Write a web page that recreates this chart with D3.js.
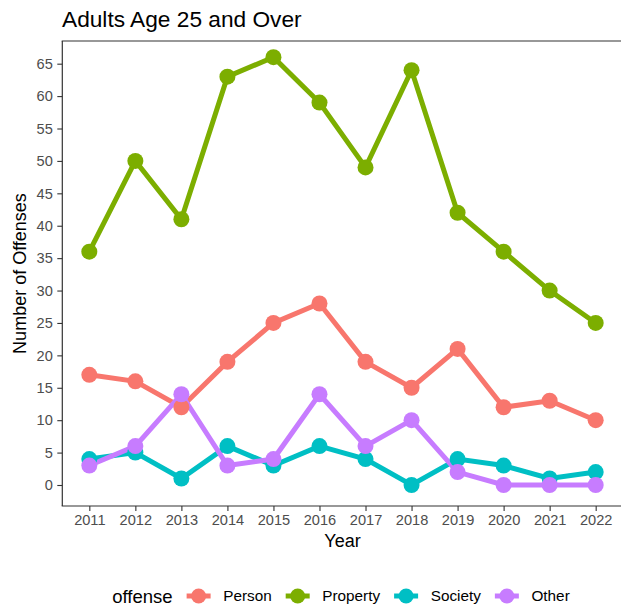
<!DOCTYPE html>
<meta charset="utf-8">
<head>
  <title>Adults Age 25 and Over</title>
  <style>
    body { margin: 0; background: #fff; font-family: "Liberation Sans", Arial, Helvetica, sans-serif; }
    svg text { font-family: "Liberation Sans", Arial, Helvetica, sans-serif; }
  </style>
  <script src="https://d3js.org/d3.v7.min.js"></script>
</head>
<body>
<svg id="chart" width="621" height="609"></svg>
<script>
// data
var years = [2011, 2012, 2013, 2014, 2015, 2016, 2017, 2018, 2019, 2020, 2021, 2022];
var offenses = ["Person", "Property", "Society", "Other"];
var person   = [17, 16, 12, 19, 25, 28, 19, 15, 21, 12, 13, 10];
var property = [36, 50, 41, 63, 66, 59, 49, 64, 42, 36, 30, 25];
var society  = [4, 5, 1, 6, 3, 6, 4, 0, 4, 3, 1, 2];
var other    = [3, 6, 14, 3, 4, 14, 6, 10, 2, 0, 0, 0];
var yTicks = [0, 5, 10, 15, 20, 25, 30, 35, 40, 45, 50, 55, 60, 65];
var colors = ["#F8766D", "#7CAE00", "#00BFC4", "#C77CFF"];

var seriesValues = [person, property, society, other];
var series = offenses.map(function(name, i) {
  return { name: name, color: colors[i],
    values: years.map(function(y, j) { return { year: y, value: seriesValues[i][j] }; }) };
});

var svg = d3.select("#chart");
var panel = { left: 61.7, right: 623.3, top: 41, bottom: 506 };

var x = d3.scaleLinear().domain([2010.4, 2022.6]).range([panel.left, panel.right]);
var y = d3.scaleLinear().domain([-3.24, 68.5]).range([panel.bottom, panel.top]);

// lines first, then points (ggplot layer order)
var line = d3.line().x(function(d) { return x(d.year); }).y(function(d) { return y(d.value); });

svg.append("g").selectAll("path")
  .data(series)
  .enter().append("path")
  .attr("d", function(d) { return line(d.values); })
  .attr("fill", "none")
  .attr("stroke", function(d) { return d.color; })
  .attr("stroke-width", 5);

svg.append("g").selectAll("g")
  .data(series)
  .enter().append("g")
  .attr("fill", function(d) { return d.color; })
  .selectAll("circle")
  .data(function(d) { return d.values; })
  .enter().append("circle")
  .attr("cx", function(d) { return x(d.year); })
  .attr("cy", function(d) { return y(d.value); })
  .attr("r", 8);

// axes
var yAxis = d3.axisLeft(y).tickValues(yTicks).tickSize(5).tickPadding(4.5);
var gy = svg.append("g").attr("transform", "translate(" + (panel.left + 0.6) + ",0)").call(yAxis);
var xAxis = d3.axisBottom(x).tickValues(years).tickFormat(d3.format("d")).tickSize(5).tickPadding(4);
var gx = svg.append("g").attr("transform", "translate(0," + panel.bottom + ")").call(xAxis);

[gx, gy].forEach(function(g) {
  g.select(".domain").remove();
  g.selectAll(".tick line").attr("stroke", "#333").attr("stroke-width", 1.1);
  g.selectAll(".tick text").attr("fill", "#4D4D4D").style("font-size", "14.6px");
});

svg.append("line")
  .attr("x1", panel.left + 0.6).attr("x2", panel.left + 0.6)
  .attr("y1", panel.top).attr("y2", panel.bottom)
  .attr("stroke", "#333").attr("stroke-width", 1.2);
svg.append("line")
  .attr("x1", panel.left).attr("x2", 621)
  .attr("y1", panel.bottom).attr("y2", panel.bottom)
  .attr("stroke", "#333").attr("stroke-width", 1.2);
svg.append("line")
  .attr("x1", panel.left).attr("x2", 621)
  .attr("y1", panel.top).attr("y2", panel.top)
  .attr("stroke", "#333").attr("stroke-width", 1.2);

// titles
svg.append("text")
  .attr("x", 62).attr("y", 27)
  .style("font-size", "22.7px").attr("fill", "#000")
  .text("Adults Age 25 and Over");

svg.append("text")
  .attr("x", (panel.left + panel.right) / 2).attr("y", 547)
  .attr("text-anchor", "middle")
  .style("font-size", "18px")
  .text("Year");

svg.append("text")
  .attr("transform", "translate(25.7," + ((panel.top + panel.bottom) / 2) + ") rotate(-90)")
  .attr("text-anchor", "middle")
  .style("font-size", "18px")
  .text("Number of Offenses");

// legend
var legend = svg.append("g");
var legendY = 596;
var title = legend.append("text").attr("y", legendY + 6.8).style("font-size", "18.5px").text("offense");
var cur = title.node().getComputedTextLength();
var items = series.map(function(s) {
  var g = legend.append("g");
  var keyLeft = cur + 14;
  g.append("line")
    .attr("x1", keyLeft).attr("x2", keyLeft + 24)
    .attr("y1", legendY).attr("y2", legendY)
    .attr("stroke", s.color).attr("stroke-width", 5);
  g.append("circle").attr("cx", keyLeft + 12).attr("cy", legendY).attr("r", 7.5).attr("fill", s.color);
  var t = g.append("text").attr("x", keyLeft + 36.6).attr("y", legendY + 5.3)
    .style("font-size", "15.3px").text(s.name);
  cur = keyLeft + 36.6 + t.node().getComputedTextLength();
  return g;
});
legend.attr("transform", "translate(" + ((panel.left + panel.right) / 2 - cur / 2 - 1.5) + ",0)");
</script>
</body>
</html>
